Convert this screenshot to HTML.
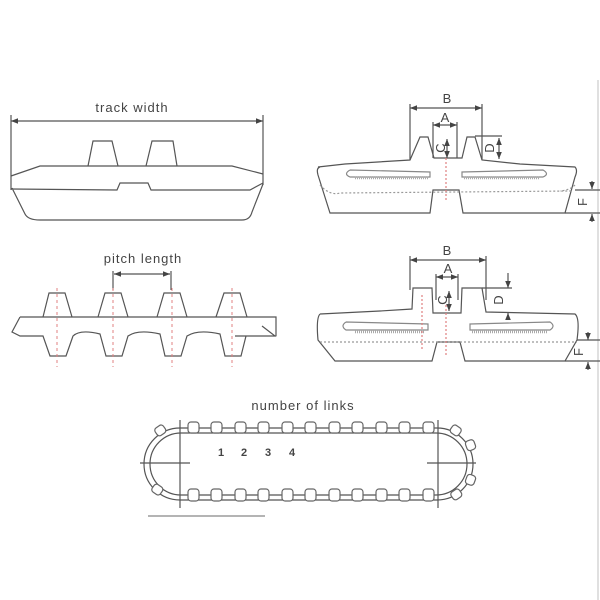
<!DOCTYPE html><html><head><style>body{margin:0;background:#fff}svg{display:block}text{font-family:"Liberation Sans",sans-serif;fill:#444}</style></head><body>
<svg width="600" height="600" viewBox="0 0 600 600" fill="none" stroke="#555" stroke-width="1.2">
<defs><marker id="a" viewBox="0 0 10 10" refX="10" refY="5" markerWidth="6" markerHeight="6" orient="auto-start-reverse"><path d="M0,1L10,5L0,9z" fill="#444" stroke="none"/></marker></defs>
<line x1="598" y1="80" x2="598" y2="600" stroke="#ccc"/>
<!-- track width -->
<text x="132" y="112" font-size="13" text-anchor="middle" stroke="none" letter-spacing="1">track width</text>
<line x1="11" y1="121" x2="263" y2="121" marker-start="url(#a)" marker-end="url(#a)"/>
<line x1="11" y1="115" x2="11" y2="190"/><line x1="263" y1="115" x2="263" y2="185"/>
<path d="M88,166L93,141L112,141L118,166M146,166L152,141L173,141L177,166"/>
<path d="M11,176L40,166L232,166L263,174M11,189L117,190L120,183L148,183L151,190L250,190L263,183M12,188L25,214Q28,220 40,220L242,220Q250,220 252,212L263,184"/>
<!-- pitch -->
<text x="143" y="263" font-size="13" text-anchor="middle" stroke="none" letter-spacing="1">pitch length</text>
<line x1="113" y1="271" x2="113" y2="290"/><line x1="171" y1="271" x2="171" y2="290"/>
<line x1="114" y1="274" x2="170" y2="274" marker-start="url(#a)" marker-end="url(#a)"/>
<path d="M43,317L49,293L65,293L72,317M98,317L105,293L121,293L128,317M157,317L164,293L180,293L187,317M216,317L224,293L240,293L247,317"/>
<path d="M20,317L276,317L276,336M20,317L12,332L20,336L43,336L50,356L66,356L73,336Q80,329 100,334L106,356L122,356L128,336Q138,329 160,334L165,356L181,356L187,336Q198,329 220,334L225,356L241,356L246,336L276,336M235,336L275,336L262,326"/>
<g stroke="#e08080" stroke-dasharray="3,3" stroke-width="1"><line x1="57" y1="288" x2="57" y2="367"/><line x1="113" y1="288" x2="113" y2="367"/><line x1="172" y1="288" x2="172" y2="367"/><line x1="232" y1="288" x2="232" y2="367"/></g>
<!-- right top -->
<g font-size="13">
<text x="447" y="103" text-anchor="middle" stroke="none">B</text>
<line x1="410" y1="108" x2="482" y2="108" marker-start="url(#a)" marker-end="url(#a)"/>
<line x1="410" y1="104" x2="410" y2="160"/><line x1="482" y1="104" x2="482" y2="160"/>
<text x="445" y="122" text-anchor="middle" stroke="none">A</text>
<line x1="433" y1="125" x2="457" y2="125" marker-start="url(#a)" marker-end="url(#a)"/>
<line x1="433" y1="122" x2="433" y2="158"/><line x1="457" y1="122" x2="457" y2="158"/>
<path d="M318,167L345,164L410,160L420,137L428,137L434,158L462,158L467,137L475,137L482,160L520,164L575,167Q578,170 575,177L565,213L463,213L459,190L433,190L430,213L330,213L318,175Q316,168 320,167"/>
<line x1="447" y1="139" x2="447" y2="158" marker-start="url(#a)" marker-end="url(#a)"/>
<text transform="translate(445,148) rotate(-90)" text-anchor="middle" stroke="none">C</text>
<line x1="475" y1="136" x2="502" y2="136"/>
<line x1="499" y1="138" x2="499" y2="159" marker-start="url(#a)" marker-end="url(#a)"/>
<text transform="translate(494,148) rotate(-90)" text-anchor="middle" stroke="none">D</text>
<path d="M350,170L430,172L430,177L350,177Q343,174 350,170M462,172L543,170Q550,174 543,177L462,177Z" stroke="#888"/>
<path d="M355,178L428,178M464,178L540,178" stroke="#aaa" stroke-width="2.5" stroke-dasharray="1,1"/>
<path d="M320,185Q330,196 340,193L572,191M575,185Q570,190 560,191" stroke="#999" stroke-dasharray="2,2"/>
<line x1="575" y1="190" x2="600" y2="190"/><line x1="565" y1="213" x2="600" y2="213"/>
<line x1="592" y1="181" x2="592" y2="189" marker-end="url(#a)"/><line x1="592" y1="222" x2="592" y2="214" marker-end="url(#a)"/>
<text transform="translate(587,202) rotate(-90)" text-anchor="middle" stroke="none">F</text>
<line x1="446" y1="158" x2="446" y2="202" stroke="#e08080" stroke-dasharray="2,2"/>
<!-- right bottom -->
<text x="447" y="255" text-anchor="middle" stroke="none">B</text>
<line x1="410" y1="260" x2="486" y2="260" marker-start="url(#a)" marker-end="url(#a)"/>
<line x1="410" y1="256" x2="410" y2="290"/><line x1="486" y1="256" x2="486" y2="300"/>
<text x="448" y="273" text-anchor="middle" stroke="none">A</text>
<line x1="436" y1="277" x2="458" y2="277" marker-start="url(#a)" marker-end="url(#a)"/>
<line x1="436" y1="274" x2="436" y2="300"/><line x1="458" y1="274" x2="458" y2="300"/>
<path d="M320,314L380,311L412,309L413,288L432,288L433,313L461,313L462,288L482,288L486,312L575,314Q580,318 577,340L565,361L465,361L460,342L437,342L432,361L335,361L318,340Q316,318 320,314"/>
<line x1="449" y1="291" x2="449" y2="311" marker-start="url(#a)" marker-end="url(#a)"/>
<text transform="translate(447,300) rotate(-90)" text-anchor="middle" stroke="none">C</text>
<line x1="482" y1="288" x2="512" y2="288"/>
<line x1="508" y1="273" x2="508" y2="288" marker-end="url(#a)"/><line x1="508" y1="318" x2="508" y2="313" marker-end="url(#a)"/>
<text transform="translate(503,300) rotate(-90)" text-anchor="middle" stroke="none">D</text>
<path d="M346,322L428,324L428,330L346,330Q340,326 346,322M470,324L550,322Q556,326 550,330L470,330Z" stroke="#888"/>
<path d="M355,332L425,332M472,332L548,332" stroke="#aaa" stroke-width="2.5" stroke-dasharray="1,1"/>
<path d="M320,342L577,342" stroke="#999" stroke-dasharray="2,2"/>
<line x1="577" y1="340" x2="600" y2="340"/><line x1="565" y1="361" x2="600" y2="361"/>
<line x1="588" y1="332" x2="588" y2="340" marker-end="url(#a)"/><line x1="588" y1="370" x2="588" y2="362" marker-end="url(#a)"/>
<text transform="translate(583,352) rotate(-90)" text-anchor="middle" stroke="none">F</text>
<line x1="446" y1="305" x2="446" y2="355" stroke="#e08080" stroke-dasharray="2,2"/>
<line x1="422" y1="295" x2="422" y2="350" stroke="#e08080" stroke-dasharray="2,2"/>
</g>
<!-- links -->
<text x="303" y="410" font-size="13" text-anchor="middle" stroke="none" letter-spacing="1">number of links</text>
<rect x="144" y="428" width="329" height="72" rx="36"/>
<rect x="150" y="433" width="317" height="62" rx="31"/>
<g fill="#fff" stroke="#666">
<rect x="188" y="422" width="11" height="11" rx="3"/><rect x="211" y="422" width="11" height="11" rx="3"/><rect x="235" y="422" width="11" height="11" rx="3"/><rect x="258" y="422" width="11" height="11" rx="3"/><rect x="282" y="422" width="11" height="11" rx="3"/><rect x="305" y="422" width="11" height="11" rx="3"/><rect x="329" y="422" width="11" height="11" rx="3"/><rect x="352" y="422" width="11" height="11" rx="3"/><rect x="376" y="422" width="11" height="11" rx="3"/><rect x="399" y="422" width="11" height="11" rx="3"/><rect x="423" y="422" width="11" height="11" rx="3"/>
<rect x="188" y="489" width="11" height="12" rx="3"/><rect x="211" y="489" width="11" height="12" rx="3"/><rect x="235" y="489" width="11" height="12" rx="3"/><rect x="258" y="489" width="11" height="12" rx="3"/><rect x="282" y="489" width="11" height="12" rx="3"/><rect x="305" y="489" width="11" height="12" rx="3"/><rect x="329" y="489" width="11" height="12" rx="3"/><rect x="352" y="489" width="11" height="12" rx="3"/><rect x="376" y="489" width="11" height="12" rx="3"/><rect x="399" y="489" width="11" height="12" rx="3"/><rect x="423" y="489" width="11" height="12" rx="3"/>
<rect x="155" y="426" width="10" height="9" rx="3" transform="rotate(-35 160 430)"/><rect x="152" y="485" width="10" height="9" rx="3" transform="rotate(35 157 490)"/>
<rect x="451" y="426" width="10" height="9" rx="3" transform="rotate(35 456 430)"/><rect x="466" y="441" width="10" height="9" rx="3" transform="rotate(70 471 445)"/><rect x="466" y="475" width="10" height="9" rx="3" transform="rotate(-70 471 480)"/><rect x="451" y="490" width="10" height="9" rx="3" transform="rotate(-35 456 494)"/>
</g>
<line x1="180" y1="420" x2="180" y2="508"/><line x1="438" y1="420" x2="438" y2="508"/>
<line x1="140" y1="463" x2="190" y2="463"/><line x1="427" y1="463" x2="476" y2="463"/>
<g font-size="11" font-weight="bold" stroke="none"><text x="218" y="456">1</text><text x="241" y="456">2</text><text x="265" y="456">3</text><text x="289" y="456">4</text></g>
<line x1="148" y1="516" x2="265" y2="516" stroke="#888"/>
</svg></body></html>
